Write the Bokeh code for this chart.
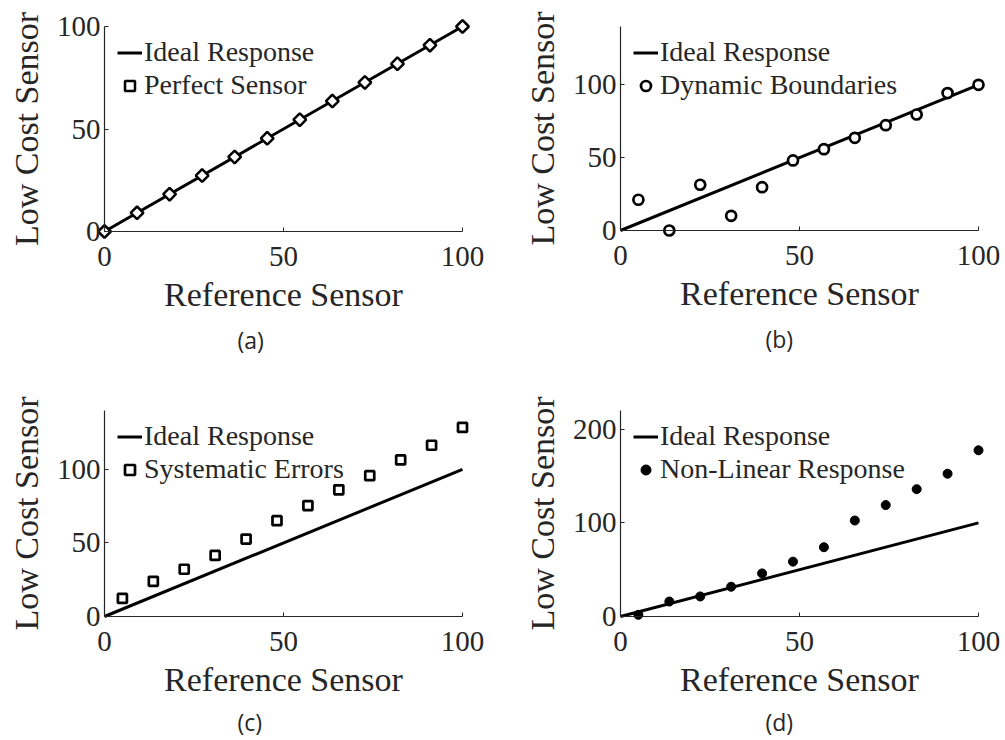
import math
from bokeh.plotting import figure
from bokeh.layouts import gridplot
from bokeh.models import Range1d, FixedTicker, Legend, LegendItem, LinearAxis, Title
from bokeh.embed import file_html
from bokeh.resources import INLINE

# ---------------- data ----------------
ideal_x = [0, 100]
ideal_y = [0, 100]

x_a = [0, 9.09, 18.18, 27.27, 36.36, 45.45, 54.55, 63.64, 72.73, 81.82, 90.91, 100]
y_a = [0, 9.09, 18.18, 27.27, 36.36, 45.45, 54.55, 63.64, 72.73, 81.82, 90.91, 100]

x_bcd = [5, 13.64, 22.27, 30.91, 39.55, 48.18, 56.82, 65.45, 74.09, 82.73, 91.36, 100]
y_b = [21.1, 0.0, 31.4, 10.1, 29.7, 48.1, 55.8, 63.6, 72.3, 79.6, 94.3, 100]
y_c = [12.3, 23.9, 32.1, 41.5, 52.6, 65.1, 75.4, 86.1, 95.7, 106.4, 116.4, 128.5]
y_d = [1.8, 16.0, 21.4, 31.8, 46.0, 58.6, 74.0, 102.5, 119.0, 136.0, 152.5, 177.5]

x_ticks = [0, 50, 100]
y_ticks_abc = [0, 50, 100]
y_ticks_d = [0, 100, 200]

legend_ideal = "Ideal Response"
labels = ["Perfect Sensor", "Dynamic Boundaries", "Systematic Errors", "Non-Linear Response"]
captions = ["(a)", "(b)", "(c)", "(d)"]

TXT = "#262626"
SERIF = "Liberation Serif"
SANS = "Open Sans"
P = 9  # padding in px so markers at the axis edge are not clipped


def panel(xs, ys, marker, fill, size, lw, angle, label, y_max, y_ticks, caption,
          width, x0px, x1px, y0px, y1px, cap_x, cap_standoff):
    sx = (x1px - x0px) / 100.0
    sy = (y0px - y1px) / float(y_max)
    fl, fr, ft, fb = x0px - P, x1px + P, y1px - P, y0px + P
    p = figure(width=width, height=370,
               frame_width=fr - fl, frame_height=fb - ft,
               min_border_left=fl, min_border_right=width - fr,
               min_border_top=ft, min_border_bottom=370 - fb,
               x_range=Range1d(-P / sx, 100 + P / sx),
               y_range=Range1d(-P / sy, y_max + P / sy),
               output_backend="svg", toolbar_location=None,
               x_axis_label="Reference Sensor", y_axis_label="Low Cost Sensor")
    p.outline_line_color = None
    p.grid.visible = False
    p.background_fill_color = "white"
    p.border_fill_color = "white"
    # label axes (at frame edges): text only
    for ax in p.axis:
        ax.axis_line_color = None
        ax.major_tick_line_color = None
        ax.major_tick_in = 0
        ax.major_tick_out = 0
        ax.minor_tick_line_color = None
        ax.major_label_text_font = SERIF
        ax.major_label_text_font_size = "29px"
        ax.major_label_text_color = TXT
        ax.axis_label_text_font = SERIF
        ax.axis_label_text_font_size = "34px"
        ax.axis_label_text_font_style = "normal"
        ax.axis_label_text_color = TXT
    p.xaxis.ticker = FixedTicker(ticks=x_ticks)
    p.yaxis.ticker = FixedTicker(ticks=y_ticks)
    p.xaxis.major_label_standoff = 6
    p.xaxis.axis_label_standoff = 7
    p.yaxis.major_label_standoff = 4 - P
    p.yaxis.axis_label_standoff = 9

    # rule axes at data zero: line and ticks only (no tick labels)
    common = dict(fixed_location=0, axis_line_color=TXT, axis_line_width=1.2,
                  major_tick_line_color=TXT, major_tick_in=4, major_tick_out=0,
                  minor_tick_line_color=None, major_label_text_color=None,
                  major_label_text_font_size="1px",
                  major_label_standoff=0, axis_label=None)
    xr = LinearAxis(bounds=(0, 100), ticker=FixedTicker(ticks=x_ticks), **common)
    yr = LinearAxis(bounds=(0, y_max), ticker=FixedTicker(ticks=y_ticks), **common)
    p.add_layout(xr, "below")
    p.add_layout(yr, "left")

    l = p.line(ideal_x, ideal_y, line_width=3, line_color="black")
    s = p.scatter(xs, ys, marker=marker, size=size, angle=angle,
                  line_color="black", line_width=lw, fill_color=fill)

    pad = 2
    row = 33
    leg_h = 2 * row + 2 * pad
    leg_top = y1px + 26 - row / 2 - pad          # first row centred 26 px below top tick
    leg = Legend(items=[LegendItem(label=legend_ideal, renderers=[l]),
                        LegendItem(label=label, renderers=[s])],
                 location=(x0px + 13 - pad - fl, fb - (leg_top + leg_h)),
                 margin=0, padding=pad, spacing=0,
                 glyph_width=25, glyph_height=row, label_height=row,
                 label_standoff=2,
                 label_text_font=SERIF, label_text_font_size="28px",
                 label_text_color=TXT,
                 background_fill_alpha=0, border_line_alpha=0)
    p.add_layout(leg)

    cap = Title(text=caption, align="left", offset=cap_x - fl - 14,
                text_font=SANS, text_font_size="23px", text_font_style="normal",
                text_color=TXT, standoff=cap_standoff)
    p.add_layout(cap, "below")
    return p


pa = panel(x_a, y_a, "square", "white", 9, 2.5, math.pi / 4, labels[0], 100, y_ticks_abc,
           captions[0], 502, 104, 462, 231, 26, 251, 13)
pb = panel(x_bcd, y_b, "circle", "white", 10, 2.7, 0, labels[1], 140, y_ticks_abc,
           captions[1], 503, 118, 476, 230, 26, 277, 13)
pc = panel(x_bcd, y_c, "square", "white", 9, 2.7, 0, labels[2], 140, y_ticks_abc,
           captions[2], 502, 104, 462, 246, 40, 251, 6)
pd = panel(x_bcd, y_d, "circle", "black", 9, 1, 0, labels[3], 220, y_ticks_d,
           captions[3], 503, 118, 476, 246, 40, 277, 6)

grid = gridplot([[pa, pb], [pc, pd]], toolbar_location=None)

open("out.html", "w").write(file_html(grid, INLINE))
